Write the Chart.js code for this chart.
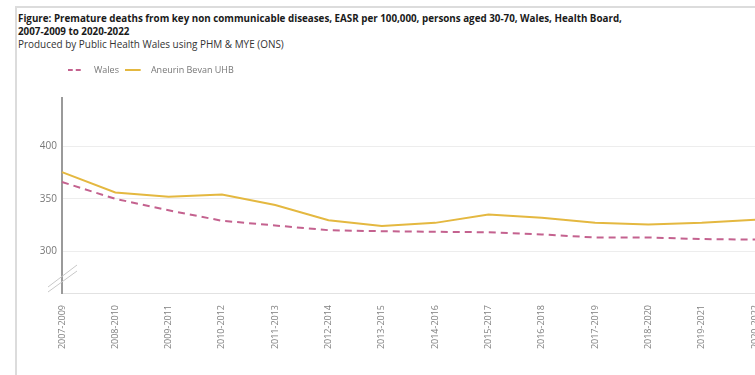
<!DOCTYPE html>
<html>
<head>
<meta charset="utf-8">
<script src="https://cdn.jsdelivr.net/npm/chart.js@4"></script>
<style>
  html, body { margin: 0; padding: 0; background: #fff; overflow: hidden; }
  body { width: 755px; height: 375px; position: relative; font-family: 'Open Sans', sans-serif; }
  .frame { position: absolute; left: 15px; top: 6px; width: 760px; height: 380px;
           border-top: 2px solid #dcdcdc; border-left: 2px solid #dcdcdc; }
  .title { position: absolute; left: 18px; top: 12px; font-size: 9.8px; font-weight: 700;
           color: #1a1a1a; line-height: 13px; white-space: nowrap; }
  .subtitle { position: absolute; left: 18px; top: 38px; font-size: 9.95px; color: #333;
              line-height: 13px; white-space: nowrap; }
  .wrap { position: absolute; left: 0; top: 0; width: 800px; height: 375px; }
</style>
</head>
<body>
<div class="frame"></div>
<div class="title">Figure: Premature deaths from key non communicable diseases, EASR per 100,000, persons aged 30-70, Wales, Health Board,<br>2007-2009 to 2020-2022</div>
<div class="subtitle">Produced by Public Health Wales using PHM &amp; MYE (ONS)</div>
<div class="wrap"><canvas id="chart"></canvas></div>
<script>
// Three-year rolling periods
const periods = ['2007-2009', '2008-2010', '2009-2011', '2010-2012', '2011-2013', '2012-2014',
  '2013-2015', '2014-2016', '2015-2017', '2016-2018', '2017-2019', '2018-2020', '2019-2021', '2020-2022'];

// EASR per 100,000, persons aged 30-70
const walesRate = [366, 350, 339, 329, 324.5, 320, 319, 318.5, 318, 316, 313, 313, 311.5, 311];
const aneurinBevanRate = [375.5, 356, 352, 354, 344, 329.5, 324, 327, 335, 332, 327, 325.5, 327, 330];

const yTickValues = [300, 350, 400];
const yMin = 260;
const yMax = 446;

const walesColour = '#c4628f';
const abColour = '#e4b840';

// Small swatches used as legend symbols (line sample plus trailing gap)
function swatch(colour, dash) {
  const c = document.createElement('canvas');
  c.width = 22; c.height = 4;
  const g = c.getContext('2d');
  g.strokeStyle = colour;
  g.lineWidth = 2;
  g.setLineDash(dash);
  g.beginPath();
  g.moveTo(0, 2);
  g.lineTo(16, 2);
  g.stroke();
  return c;
}

// Diagonal "break" marks at the foot of the value axis
const axisBreak = {
  id: 'axisBreak',
  afterDraw(chart) {
    const { ctx, chartArea: a } = chart;
    ctx.save();
    ctx.strokeStyle = '#c8c8c8';
    ctx.lineWidth = 1;
    const x0 = a.left - 14, x1 = a.left + 15;
    ctx.beginPath();
    ctx.moveTo(x0, a.bottom - 6); ctx.lineTo(x1, a.bottom - 28);
    ctx.moveTo(x0, a.bottom - 1); ctx.lineTo(x1, a.bottom - 22);
    ctx.stroke();
    ctx.restore();
  }
};

// Extra space between the legend row and the plot
const legendGap = {
  id: 'legendGap',
  beforeInit(chart) {
    const fit = chart.legend.fit;
    chart.legend.fit = function () {
      fit.call(this);
      this.height += 13.8;
    };
  }
};

new Chart(document.getElementById('chart'), {
  type: 'line',
  data: {
    labels: periods,
    datasets: [
      {
        label: 'Wales',
        data: walesRate,
        borderColor: walesColour,
        backgroundColor: walesColour,
        borderWidth: 2,
        borderDash: [7, 5],
        pointRadius: 0,
        pointStyle: swatch(walesColour, [5, 3]),
        tension: 0,
        fill: false
      },
      {
        label: 'Aneurin Bevan UHB',
        data: aneurinBevanRate,
        borderColor: abColour,
        backgroundColor: abColour,
        borderWidth: 2,
        pointRadius: 0,
        pointStyle: swatch(abColour, []),
        tension: 0,
        fill: false
      }
    ]
  },
  options: {
    responsive: true,
    maintainAspectRatio: false,
    animation: false,
    events: [],
    layout: { padding: { top: 59.5, left: 20, right: 45, bottom: 0 } },
    plugins: {
      legend: {
        position: 'top',
        align: 'start',
        fullSize: false,
        labels: {
          usePointStyle: true,
          pointStyleWidth: 21.5,
          padding: 6,
          color: '#777',
          font: { family: 'Open Sans', size: 9 }
        }
      },
      tooltip: { enabled: false },
      title: { display: false }
    },
    scales: {
      x: {
        grid: { display: false },
        border: { display: true, color: '#e2e2e2', width: 1 },
        offset: false,
        afterFit(s) { s.height = 82; },
        ticks: {
          minRotation: 90,
          maxRotation: 90,
          autoSkip: false,
          padding: 4,
          color: '#808080',
          font: { family: 'Open Sans', size: 9 }
        }
      },
      y: {
        min: yMin,
        max: yMax,
        afterFit(s) { s.width = 42; },
        afterBuildTicks(s) { s.ticks = yTickValues.map(v => ({ value: v })); },
        grid: { color: '#ededed', drawTicks: false },
        border: { display: true, color: '#9a9a9a', width: 2 },
        ticks: {
          padding: 5,
          color: '#777',
          font: { family: 'Open Sans', size: 10 }
        }
      }
    }
  },
  plugins: [legendGap, axisBreak]
});
</script>
</body>
</html>
